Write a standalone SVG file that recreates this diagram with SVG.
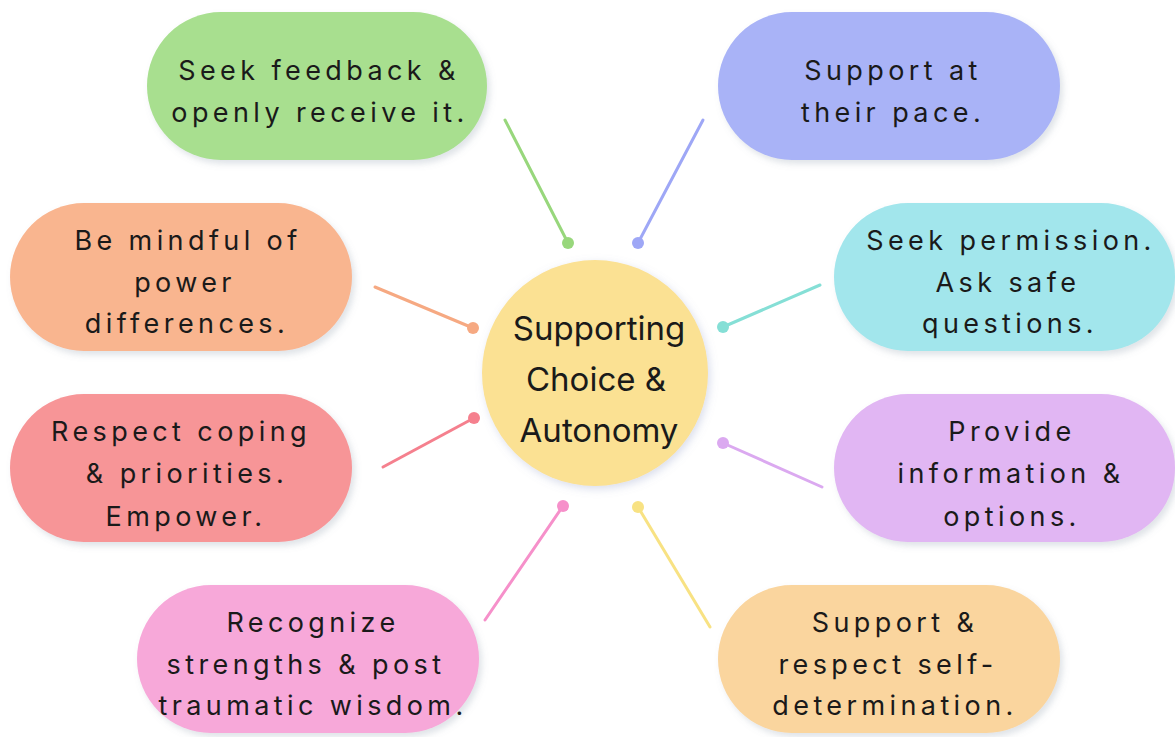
<svg xmlns="http://www.w3.org/2000/svg" width="1175" height="737" viewBox="0 0 1175 737">
<defs>
<style>
.pill{filter:url(#sh);}
.t{font-family:Inter,"Liberation Sans",sans-serif;font-size:27px;letter-spacing:4.4px;fill:#1a1a1a;text-anchor:middle;}
.c{font-family:Inter,"Liberation Sans",sans-serif;font-size:33px;fill:#1a1a1a;text-anchor:middle;}
.ln{stroke-width:3;stroke-linecap:round;fill:none;}
</style>
<filter id="sh" x="-10%" y="-10%" width="125%" height="130%">
<feDropShadow dx="3" dy="4" stdDeviation="3" flood-color="#8090a0" flood-opacity="0.25"/>
</filter>
<filter id="csh" x="-20%" y="-20%" width="140%" height="140%">
<feDropShadow dx="2" dy="3" stdDeviation="4" flood-color="#8090c0" flood-opacity="0.3"/>
</filter>
</defs>
<rect width="1175" height="737" fill="#ffffff"/>
<g id="connectors">
<line class="ln" x1="505" y1="120" x2="568" y2="243" stroke="#98d77c"/>
<circle cx="568" cy="243" r="6" fill="#98d77c"/>
<line class="ln" x1="703" y1="120" x2="638" y2="243" stroke="#9ea7f6"/>
<circle cx="638" cy="243" r="6" fill="#9ea7f6"/>
<line class="ln" x1="375" y1="287" x2="473" y2="328" stroke="#f6a982"/>
<circle cx="473" cy="328" r="6" fill="#f6a982"/>
<line class="ln" x1="820" y1="285" x2="723" y2="327" stroke="#85dfd6"/>
<circle cx="723" cy="327" r="6" fill="#85dfd6"/>
<line class="ln" x1="383" y1="467" x2="474" y2="418" stroke="#f5808e"/>
<circle cx="474" cy="418" r="6" fill="#f5808e"/>
<line class="ln" x1="822" y1="487" x2="723" y2="443" stroke="#dba9f0"/>
<circle cx="723" cy="443" r="6" fill="#dba9f0"/>
<line class="ln" x1="485" y1="620" x2="563" y2="506" stroke="#f690ca"/>
<circle cx="563" cy="506" r="6" fill="#f690ca"/>
<line class="ln" x1="710" y1="627" x2="638" y2="507" stroke="#f8e283"/>
<circle cx="638" cy="507" r="6" fill="#f8e283"/>
</g>
<g id="center">
<circle cx="595" cy="373" r="113" fill="#fbe193" filter="url(#csh)"/>
<text class="c" x="599" y="340">Supporting</text>
<text class="c" x="596" y="391">Choice &amp;</text>
<text class="c" x="599" y="442">Autonomy</text>
</g>
<g id="n-feedback">
<rect class="pill" x="147" y="12" width="340" height="148" rx="74" fill="#a8df8f"/>
<text class="t" x="319" y="80">Seek feedback &amp;</text>
<text class="t" x="320" y="122">openly receive it.</text>
</g>
<g id="n-pace">
<rect class="pill" x="718" y="12" width="342" height="148" rx="74" fill="#a9b3f7"/>
<text class="t" x="893" y="80">Support at</text>
<text class="t" x="893" y="122">their pace.</text>
</g>
<g id="n-power">
<rect class="pill" x="10" y="203" width="342" height="148" rx="74" fill="#f9b58f"/>
<text class="t" x="188" y="250">Be mindful of</text>
<text class="t" x="185" y="292">power</text>
<text class="t" x="187" y="333">differences.</text>
</g>
<g id="n-permission">
<rect class="pill" x="834" y="203" width="341" height="148" rx="74" fill="#a2e6ec"/>
<text class="t" x="1011" y="250">Seek permission.</text>
<text class="t" x="1008" y="292">Ask safe</text>
<text class="t" x="1010" y="333">questions.</text>
</g>
<g id="n-coping">
<rect class="pill" x="10" y="394" width="342" height="148" rx="74" fill="#f79597"/>
<text class="t" x="181" y="441">Respect coping</text>
<text class="t" x="187" y="483">&amp; priorities.</text>
<text class="t" x="186" y="526">Empower.</text>
</g>
<g id="n-information">
<rect class="pill" x="834" y="394" width="341" height="148" rx="74" fill="#e1b6f3"/>
<text class="t" x="1012" y="441">Provide</text>
<text class="t" x="1011" y="483">information &amp;</text>
<text class="t" x="1012" y="526">options.</text>
</g>
<g id="n-strengths">
<rect class="pill" x="137" y="585" width="342" height="148" rx="74" fill="#f7a8d9"/>
<text class="t" x="313" y="632">Recognize</text>
<text class="t" x="306" y="674">strengths &amp; post</text>
<text class="t" x="313" y="715">traumatic wisdom.</text>
</g>
<g id="n-self">
<rect class="pill" x="718" y="585" width="342" height="148" rx="74" fill="#fad59e"/>
<text class="t" x="895" y="632">Support &amp;</text>
<text class="t" x="888" y="674">respect self-</text>
<text class="t" x="895" y="715">determination.</text>
</g>
</svg>
